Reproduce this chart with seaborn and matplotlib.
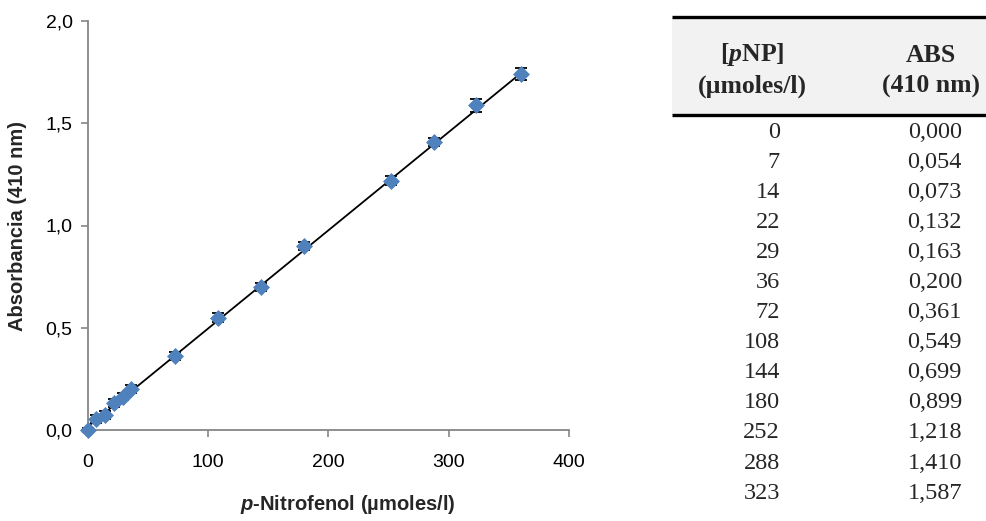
import matplotlib
matplotlib.use("Agg")
import matplotlib.pyplot as plt
import seaborn as sns
import pandas as pd
from matplotlib.patches import Rectangle

# ---------------- data ----------------
conc = [0, 7, 14, 22, 29, 36, 72, 108, 144, 180, 252, 288, 323, 360]
absorb = [0.000, 0.054, 0.073, 0.132, 0.163, 0.200, 0.361, 0.549, 0.699,
          0.899, 1.218, 1.410, 1.587, 1.742]
abs_err = [0.010, 0.020, 0.018, 0.018, 0.018, 0.020, 0.018, 0.022, 0.018,
           0.020, 0.022, 0.020, 0.032, 0.030]
slope = 0.0048
intercept = 0.0169
eq_text = "y = 0,0048x  + 0,0169"
r2_text = "R\u00b2 = 0,9997"
xticks = [0, 100, 200, 300, 400]
yticks = [0.0, 0.5, 1.0, 1.5, 2.0]
ytick_labels = ["0,0", "0,5", "1,0", "1,5", "2,0"]
table_conc = ["0", "7", "14", "22", "29", "36", "72", "108", "144", "180",
              "252", "288", "323"]
table_abs = ["0,000", "0,054", "0,073", "0,132", "0,163", "0,200", "0,361",
             "0,549", "0,699", "0,899", "1,218", "1,410", "1,587"]

df = pd.DataFrame({"conc": conc, "abs": absorb, "err": abs_err})
fit = pd.DataFrame({"conc": [min(conc), max(conc)]})
fit["abs"] = slope * fit["conc"] + intercept

# ---------------- style ----------------
sns.set_theme(style="white")
plt.rcParams["font.family"] = ["Liberation Sans", "DejaVu Sans"]
plt.rcParams["mathtext.fontset"] = "custom"
plt.rcParams["mathtext.it"] = "Liberation Sans:bold:italic"
plt.rcParams["mathtext.bf"] = "Liberation Serif:bold:italic"
plt.rcParams["mathtext.rm"] = "Liberation Sans"

W, H = 987, 521
fig = plt.figure(figsize=(W / 100, H / 100), dpi=100)
fig.patch.set_facecolor("white")

x0, x1, y0, y1 = 88, 569, 430, 21
ax = fig.add_axes([x0 / W, 1 - y0 / H, (x1 - x0) / W, (y0 - y1) / H])

sns.lineplot(data=fit, x="conc", y="abs", color="black", linewidth=1.3,
             ax=ax, zorder=2)
ax.errorbar(df["conc"], df["abs"], yerr=df["err"], fmt="none",
            ecolor="black", elinewidth=1.1, capsize=4, capthick=1.3,
            zorder=3, clip_on=False)
sns.scatterplot(data=df, x="conc", y="abs", marker="D", color="#4F81BD",
                s=75, linewidth=0, ax=ax, zorder=4, clip_on=False)

ax.set_xlim(0, 400)
ax.set_ylim(0, 2.0)
ax.set_xticks(xticks)
ax.set_xticklabels([str(t) for t in xticks])
ax.set_yticks(yticks)
ax.set_yticklabels(ytick_labels)
ax.set_xlabel("")
ax.set_ylabel("")
for side in ["top", "right"]:
    ax.spines[side].set_visible(False)
for side in ["left", "bottom"]:
    ax.spines[side].set_color("#868686")
    ax.spines[side].set_linewidth(1.3)
ax.tick_params(axis="both", which="both", direction="out", length=5,
               width=1.2, color="#868686", labelsize=14, labelcolor="black",
               left=True, bottom=True)
ax.tick_params(axis="x", pad=12)
ax.tick_params(axis="y", pad=6)

# ---------------- overlay (pixel coordinates) ----------------
ov = fig.add_axes([0, 0, 1, 1], zorder=-1)
ov.set_xlim(0, W)
ov.set_ylim(H, 0)
ov.axis("off")

ov.text(18, 226, "Absorbancia (410 nm)", rotation=90, ha="center",
        va="center", fontsize=14.5, fontweight="bold")
ov.text(348, 505, "$p$-Nitrofenol (\u00b5moles/l)", ha="center",
        va="center", fontsize=14.5, fontweight="bold")
ov.text(315, 37, eq_text, ha="center", va="center", fontsize=14.5)
ov.text(315, 61, r2_text, ha="center", va="center", fontsize=14.5)

# table
serif = ["Liberation Serif", "DejaVu Serif"]
ov.add_patch(Rectangle((672, 17), W - 672, 115 - 17, facecolor="#f2f2f2",
                       edgecolor="none"))
ov.plot([672, W], [17, 17], color="black", linewidth=2.4,
        solid_capstyle="butt")
ov.plot([672, W], [115, 115], color="black", linewidth=2.4,
        solid_capstyle="butt")
ov.text(752, 55, r"[$\mathbf{p}$NP]", ha="center", va="center",
        fontsize=18.5, fontweight="bold", family=serif)
ov.text(752, 86, "(\u00b5moles/l)", ha="center", va="center",
        fontsize=18.5, fontweight="bold", family=serif)
ov.text(931, 55, "ABS", ha="center", va="center",
        fontsize=18.5, fontweight="bold", family=serif)
ov.text(931, 86, "(410 nm)", ha="center", va="center",
        fontsize=18.5, fontweight="bold", family=serif)
for i, (c, a) in enumerate(zip(table_conc, table_abs)):
    yy = 132 + 30.1 * i
    ov.text(780, yy, c, ha="right", va="center", fontsize=17.5, family=serif)
    ov.text(962, yy, a, ha="right", va="center", fontsize=17.5, family=serif)

fig.savefig("out.png", dpi=100, facecolor="white")
